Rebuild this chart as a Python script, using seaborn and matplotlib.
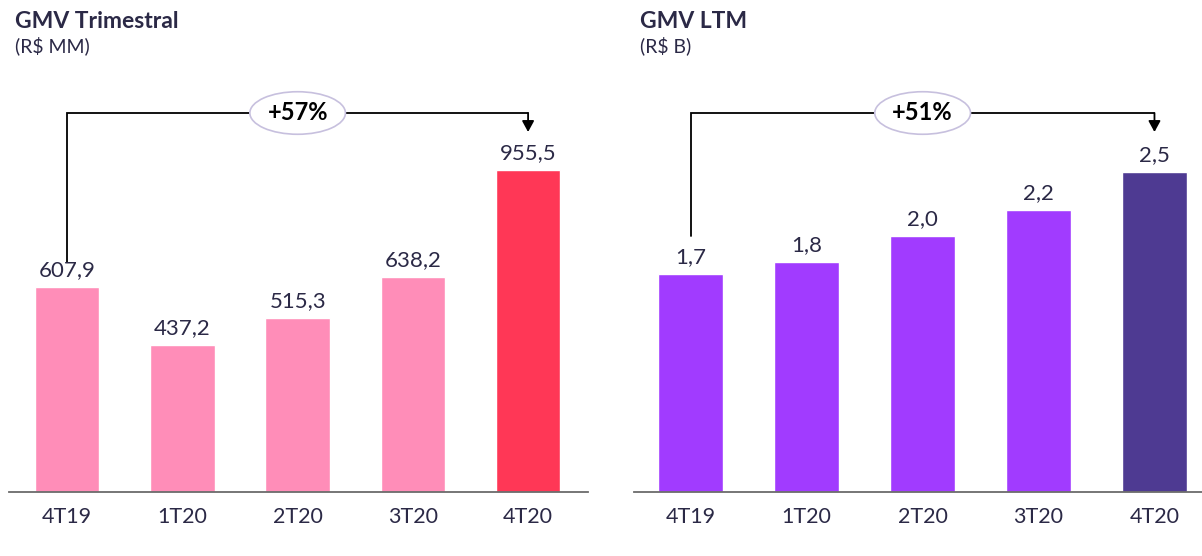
import matplotlib
matplotlib.use("Agg")
import matplotlib.pyplot as plt
import seaborn as sns
import pandas as pd

# Quarterly GMV (R$ MM) and LTM GMV (R$ B)
quarters = ["4T19", "1T20", "2T20", "3T20", "4T20"]
gmv_quarter = [607.9, 437.2, 515.3, 638.2, 955.5]
gmv_ltm = [1.7, 1.8, 2.0, 2.2, 2.5]
growth_quarter = "+57%"
growth_ltm = "+51%"

TEXT = "#2B2946"
sns.set_theme(style="white")
plt.rcParams["font.family"] = ["Lato", "DejaVu Sans"]

fig = plt.figure(figsize=(12.02, 5.56), dpi=100)
W, H = 1202, 556
base_px = 64      # baseline height from bottom of figure
top_px = 496      # axes top from bottom

ax1 = fig.add_axes([9 / W, base_px / H, (588 - 9) / W, (top_px - base_px) / H])
ax2 = fig.add_axes([634 / W, base_px / H, (1202 - 634) / W, (top_px - base_px) / H])


def br(v):
    return f"{v:.1f}".replace(".", ",")


def draw_panel(ax, values, colors, ymax, xlim, growth, bracket_y, tip_y, start_gap):
    df = pd.DataFrame({"q": quarters, "v": values})
    sns.barplot(data=df, x="q", y="v", hue="q", palette=colors, legend=False,
                width=0.56, ax=ax, saturation=1)
    for c in ax.containers:
        ax.bar_label(c, labels=[br(v) for v in c.datavalues], padding=5,
                     fontsize=16, color=TEXT)
    ax.set_ylim(0, ymax)
    ax.set_xlim(*xlim)
    ax.set_xlabel("")
    ax.set_ylabel("")
    ax.set_yticks([])
    for s in ["top", "left", "right"]:
        ax.spines[s].set_visible(False)
    ax.spines["bottom"].set_color("#6B6B6B")
    ax.spines["bottom"].set_linewidth(1.3)
    ax.tick_params(axis="x", length=0, pad=11, labelsize=15.5, labelcolor=TEXT)

    # growth bracket from first to last quarter
    x0, x1 = 0, len(values) - 1
    ax.plot([x0, x0, x1], [values[0] + start_gap, bracket_y, bracket_y],
            color="black", lw=1.3, solid_joinstyle="miter", clip_on=False)
    ax.annotate("", xy=(x1, tip_y), xytext=(x1, bracket_y),
                arrowprops=dict(arrowstyle="-|>,head_length=0.55,head_width=0.3",
                                color="black", lw=1.3, shrinkA=0, shrinkB=0),
                annotation_clip=False)
    ax.text((x0 + x1) / 2, bracket_y, growth, ha="center", va="center",
            fontsize=17, fontweight="bold", color="black",
            bbox=dict(boxstyle="ellipse,pad=0.15", fc="white", ec="#C7C0DE", lw=1.2))


pxu1 = (top_px - base_px) / 1282.0
draw_panel(ax1, gmv_quarter, ["#FF8DB8", "#FF8DB8", "#FF8DB8", "#FF8DB8", "#FF3756"],
           1282, (-0.505, 4.52), growth_quarter,
           bracket_y=379 / pxu1, tip_y=360 / pxu1, start_gap=75)

pxu2 = (top_px - base_px) / 3.375
draw_panel(ax2, gmv_ltm, ["#A13BFF", "#A13BFF", "#A13BFF", "#A13BFF", "#4E3A92"],
           3.375, (-0.49, 4.41), growth_ltm,
           bracket_y=379 / pxu2, tip_y=360 / pxu2, start_gap=0.3)

# panel titles
fig.text(15 / W, 1 - 21 / H, "GMV Trimestral", fontsize=16.5, fontweight="bold",
         color=TEXT, va="center", ha="left")
fig.text(15 / W, 1 - 46 / H, "(R$ MM)", fontsize=14, color=TEXT, va="center", ha="left")
fig.text(640 / W, 1 - 21 / H, "GMV LTM", fontsize=16.5, fontweight="bold",
         color=TEXT, va="center", ha="left")
fig.text(640 / W, 1 - 46 / H, "(R$ B)", fontsize=14, color=TEXT, va="center", ha="left")

fig.savefig("out.png", dpi=100, facecolor="white")
